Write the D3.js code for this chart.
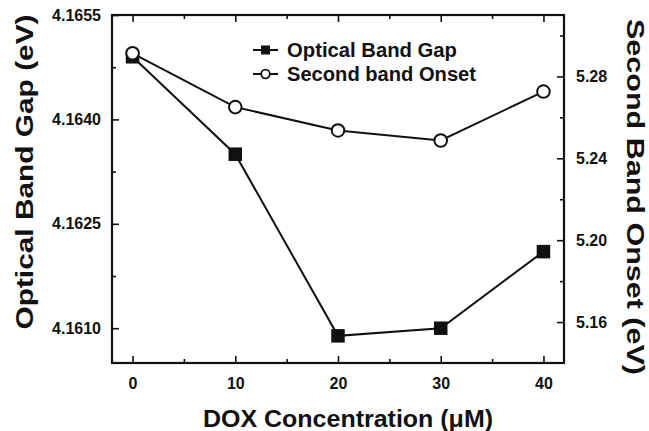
<!DOCTYPE html>
<html><head><meta charset="utf-8">
<script src="https://cdn.jsdelivr.net/npm/d3@7"></script>
<style>
body{margin:0;background:#fff;}
svg{display:block;font-family:"Liberation Sans",Arial,Helvetica,sans-serif;}
.tick text{font-weight:bold;font-size:16px;fill:#111;}
</style></head>
<body>
<svg id="c" width="649" height="431"></svg>
<script>
const concentrations = [0, 10, 20, 30, 40];
const opticalBandGap = [4.1649, 4.1635, 4.16089, 4.1610, 4.1621];
const secondBandOnset = [5.2913, 5.2650, 5.2536, 5.2487, 5.2726];
const xTicks = [0, 10, 20, 30, 40];
const xMinorTicks = [5, 15, 25, 35];
const leftTicks = [4.1610, 4.1625, 4.1640, 4.1655];
const leftMinorTicks = [4.16175, 4.16325, 4.16475];
const rightTicks = [5.16, 5.20, 5.24, 5.28];
const rightMinorTicks = [5.18, 5.22, 5.26, 5.30];
const seriesNames = ["Optical Band Gap", "Second band Onset"];

const svg = d3.select("#c");
const L = 112, R = 564, T = 15, B = 363;
const x = d3.scaleLinear().domain([-2, 42]).range([L, R]);
const yL = d3.scaleLinear().domain([4.1605, 4.1655]).range([B, T]);
const yR = d3.scaleLinear().domain([5.14, 5.31]).range([B, T]);

function styleAxis(g){ g.select(".domain").remove(); g.selectAll(".tick line").attr("stroke","#111").attr("stroke-width",1.6); }

svg.append("g").attr("transform",`translate(0,${B})`)
  .call(d3.axisBottom(x).tickValues(xTicks).tickSize(-7).tickPadding(15).tickFormat(d3.format("d"))).call(styleAxis);
svg.append("g").attr("transform",`translate(0,${B})`)
  .call(d3.axisBottom(x).tickValues(xMinorTicks).tickSize(-4).tickFormat("")).call(styleAxis);
svg.append("g").attr("transform",`translate(0,${T})`)
  .call(d3.axisTop(x).tickValues(xTicks).tickSize(-7).tickFormat("")).call(styleAxis);
svg.append("g").attr("transform",`translate(0,${T})`)
  .call(d3.axisTop(x).tickValues(xMinorTicks).tickSize(-4).tickFormat("")).call(styleAxis);
svg.append("g").attr("transform",`translate(${L},0)`)
  .call(d3.axisLeft(yL).tickValues(leftTicks).tickSize(-7).tickPadding(11).tickFormat(d3.format(".4f"))).call(styleAxis);
svg.append("g").attr("transform",`translate(${L},0)`)
  .call(d3.axisLeft(yL).tickValues(leftMinorTicks).tickSize(-4).tickFormat("")).call(styleAxis);
svg.append("g").attr("transform",`translate(${R},0)`)
  .call(d3.axisRight(yR).tickValues(rightTicks).tickSize(-7).tickPadding(12).tickFormat(d3.format(".2f"))).call(styleAxis);
svg.append("g").attr("transform",`translate(${R},0)`)
  .call(d3.axisRight(yR).tickValues(rightMinorTicks).tickSize(-4).tickFormat("")).call(styleAxis);

svg.append("rect").attr("x",L).attr("y",T).attr("width",R-L).attr("height",B-T)
  .attr("fill","none").attr("stroke","#111").attr("stroke-width",2.2);

const gapData = concentrations.map((c,i)=>({x:c,y:opticalBandGap[i]}));
const onsetData = concentrations.map((c,i)=>({x:c,y:secondBandOnset[i]}));
svg.append("path").datum(gapData).attr("fill","none").attr("stroke","#111").attr("stroke-width",2)
  .attr("d", d3.line().x(d=>x(d.x)).y(d=>yL(d.y)));
svg.append("path").datum(onsetData).attr("fill","none").attr("stroke","#111").attr("stroke-width",2)
  .attr("d", d3.line().x(d=>x(d.x)).y(d=>yR(d.y)));

const sq = 13.5;
svg.selectAll("rect.gap").data(gapData).enter().append("rect").attr("class","gap")
  .attr("x",d=>x(d.x)-sq/2).attr("y",d=>yL(d.y)-sq/2).attr("width",sq).attr("height",sq).attr("fill","#111");
svg.selectAll("circle.onset").data(onsetData).enter().append("circle").attr("class","onset")
  .attr("cx",d=>x(d.x)).attr("cy",d=>yR(d.y)).attr("r",6.3).attr("fill","#fff").attr("stroke","#111").attr("stroke-width",2);

const lg = svg.append("g");
[0,1].forEach(i=>{
  const cy = 50 + i*24;
  lg.append("line").attr("x1",253).attr("x2",278).attr("y1",cy).attr("y2",cy).attr("stroke","#111").attr("stroke-width",2);
  if(i===0) lg.append("rect").attr("x",261).attr("y",cy-4.5).attr("width",9).attr("height",9).attr("fill","#111");
  else lg.append("circle").attr("cx",265.5).attr("cy",cy).attr("r",4.3).attr("fill","#fff").attr("stroke","#111").attr("stroke-width",1.8);
  lg.append("text").attr("x",287).attr("y",cy+7).attr("font-weight","bold").attr("font-size",20)
    .attr("textLength", i===0?170:189).attr("lengthAdjust","spacingAndGlyphs").attr("fill","#111").text(seriesNames[i]);
});

svg.append("text").attr("x",348).attr("y",427).attr("text-anchor","middle").attr("font-weight","bold")
  .attr("font-size",24).attr("textLength",290).attr("lengthAdjust","spacingAndGlyphs").attr("fill","#111")
  .text("DOX Concentration (\u03bcM)");
svg.append("text").attr("transform","translate(33,172) rotate(-90)").attr("text-anchor","middle").attr("font-weight","bold")
  .attr("font-size",24).attr("textLength",315).attr("lengthAdjust","spacingAndGlyphs").attr("fill","#111")
  .text("Optical Band Gap (eV)");
svg.append("text").attr("transform","translate(627,197) rotate(90)").attr("text-anchor","middle").attr("font-weight","bold")
  .attr("font-size",23).attr("textLength",356).attr("lengthAdjust","spacingAndGlyphs").attr("fill","#111")
  .text("Second Band Onset (eV)");
</script>
</body></html>
